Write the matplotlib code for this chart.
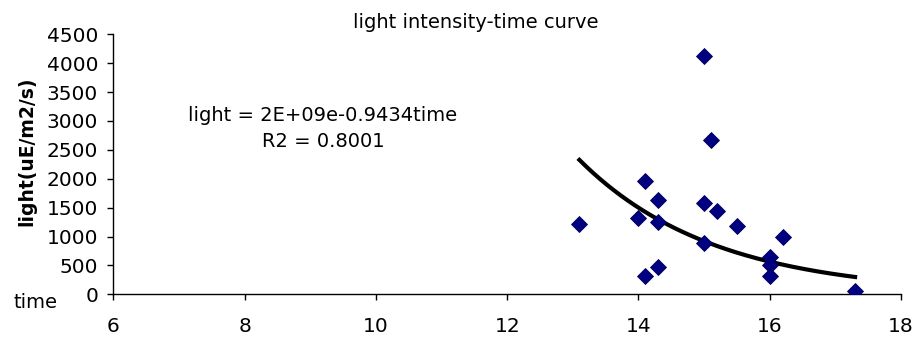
import matplotlib

matplotlib.use("Agg")
import matplotlib.pyplot as plt
import numpy as np

# measured light intensity against time of day
time = [13.1, 14.0, 14.1, 14.1, 14.3, 14.3, 14.3, 15.0, 15.1, 15.0,
        15.0, 15.2, 15.5, 16.0, 16.0, 16.0, 16.2, 17.3]
light = [1215, 1315, 1960, 320, 1640, 1250, 480, 4125, 2670, 1580,
         890, 1450, 1180, 650, 510, 320, 990, 55]

# exponential trendline light = a * exp(-b * time)
trend_a = 1.39e6
trend_b = 0.488

x_ticks = [6, 8, 10, 12, 14, 16, 18]
y_ticks = [0, 500, 1000, 1500, 2000, 2500, 3000, 3500, 4000, 4500]

plt.rcParams.update({
    "font.family": "DejaVu Sans",
    "font.size": 14,
})

fig = plt.figure(figsize=(9.17, 3.38), dpi=100, facecolor="white")
ax = fig.add_axes([0.1236, 0.1293, 0.9826 - 0.1236, 0.8985 - 0.1293])

tx = np.linspace(min(time), max(time), 200)
ax.plot(tx, trend_a * np.exp(-trend_b * tx), color="black", lw=3.0, zorder=2)
ax.plot(time, light, linestyle="none", marker="D", ms=8.5,
        markerfacecolor="#000080", markeredgecolor="#00005a", markeredgewidth=0.6, zorder=3)

ax.set_xlim(6, 18)
ax.set_ylim(0, 4500)
ax.set_xticks(x_ticks)
ax.set_yticks(y_ticks)
ax.tick_params(axis="x", direction="out", length=4, width=1, pad=12, labelsize=14.5)
ax.tick_params(axis="y", direction="out", length=4, width=1, pad=7, labelsize=14.5)
for side in ("top", "right"):
    ax.spines[side].set_visible(False)
for side in ("left", "bottom"):
    ax.spines[side].set_linewidth(1.0)
    ax.spines[side].set_color("black")

fig.text(476 / 917, 1 - 22 / 338, "light intensity-time curve", ha="center", va="center", fontsize=14)
fig.text(27 / 917, 1 - 151 / 338, "light(uE/m2/s)", rotation=90, ha="center", va="center",
         fontsize=13.5, fontweight="bold")
fig.text(35 / 917, 1 - 302 / 338, "time", ha="center", va="center", fontsize=14)
fig.text(323 / 917, 1 - 115 / 338, "light = 2E+09e-0.9434time", ha="center", va="center", fontsize=14)
fig.text(323 / 917, 1 - 141.5 / 338, "R2 = 0.8001", ha="center", va="center", fontsize=14)

fig.savefig("out.png", dpi=100)
